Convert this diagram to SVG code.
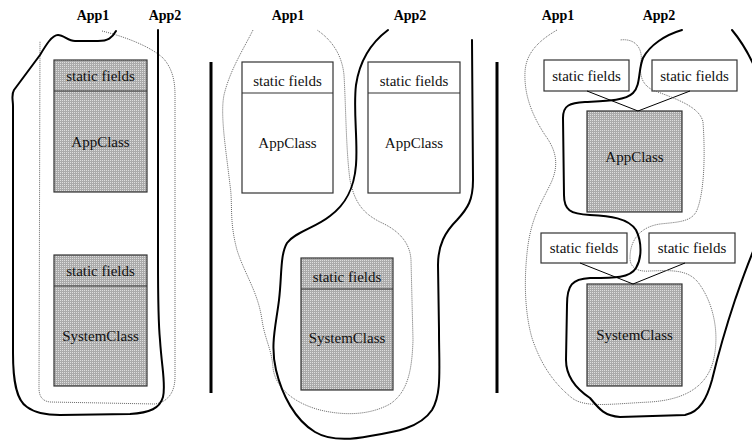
<svg xmlns="http://www.w3.org/2000/svg" width="752" height="441" viewBox="0 0 752 441">
  <defs>
    <!-- stippled grey fill used for shared classes -->
    <pattern id="stipple" width="2" height="2" patternUnits="userSpaceOnUse">
      <rect width="2" height="2" fill="#aaaaaa"/>
      <rect width="1" height="1" fill="#dedede"/>
    </pattern>
  </defs>
  <style>
    text { font-family: 'Liberation Serif', 'DejaVu Serif', serif; text-anchor: middle; }
    .lbl { font-weight: bold; font-size: 14px; fill: #000; }
    .txt { font-size: 15px; fill: #111; }
    .box { stroke: #333; stroke-width: 1.2; }
    .shared { fill: url(#stipple); }
    .plain { fill: #fff; }
    .sep { stroke: #000; stroke-width: 3; fill: none; }
    .app-solid { fill: none; stroke: #000; stroke-width: 2; stroke-linejoin: round; stroke-linecap: round; }
    .app-dot { fill: none; stroke: #666; stroke-width: 1; stroke-dasharray: 1 1; stroke-linejoin: round; }
    .link { stroke: #000; stroke-width: 1; fill: none; }
  </style>

  <rect width="752" height="441" fill="#fff"/>

  <!-- panel separators -->
  <g id="separators">
    <line class="sep" x1="211" y1="62" x2="211" y2="393"/>
    <line class="sep" x1="497" y1="62" x2="497" y2="393"/>
  </g>

  <!-- application labels -->
  <g id="labels" font-family="Liberation Serif, serif">
    <text class="lbl" x="93" y="20">App1</text>
    <text class="lbl" x="165" y="20">App2</text>
    <text class="lbl" x="288" y="20">App1</text>
    <text class="lbl" x="410" y="20">App2</text>
    <text class="lbl" x="558" y="20">App1</text>
    <text class="lbl" x="659" y="20">App2</text>
  </g>

  <!-- panel 1: both applications share every class -->
  <g id="p1-appclass">
    <rect class="box shared" x="54" y="60" width="93" height="132"/>
    <line class="box" x1="54" y1="91" x2="147" y2="91"/>
    <text class="txt" x="100.5" y="81">static fields</text>
    <text class="txt" x="100.5" y="147">AppClass</text>
  </g>
  <g id="p1-systemclass">
    <rect class="box shared" x="54" y="255" width="93" height="131"/>
    <line class="box" x1="54" y1="286" x2="147" y2="286"/>
    <text class="txt" x="100.5" y="276">static fields</text>
    <text class="txt" x="100.5" y="341">SystemClass</text>
  </g>

  <!-- panel 2: separate application classes, shared system class -->
  <g id="p2-appclass-1">
    <rect class="box plain" x="242" y="62" width="91" height="131"/>
    <line class="box" x1="242" y1="93" x2="333" y2="93"/>
    <text class="txt" x="287.5" y="86">static fields</text>
    <text class="txt" x="287.5" y="148">AppClass</text>
  </g>
  <g id="p2-appclass-2">
    <rect class="box plain" x="368" y="62" width="92" height="131"/>
    <line class="box" x1="368" y1="93" x2="460" y2="93"/>
    <text class="txt" x="414" y="86">static fields</text>
    <text class="txt" x="414" y="148">AppClass</text>
  </g>
  <g id="p2-systemclass">
    <rect class="box shared" x="301" y="258" width="92" height="132"/>
    <line class="box" x1="301" y1="289" x2="393" y2="289"/>
    <text class="txt" x="347" y="282">static fields</text>
    <text class="txt" x="347" y="343">SystemClass</text>
  </g>

  <!-- panel 3: shared classes with per-application static fields -->
  <g id="p3-fields-top-1">
    <rect class="box plain" x="544" y="60" width="85" height="31"/>
    <text class="txt" x="586.5" y="81">static fields</text>
  </g>
  <g id="p3-fields-top-2">
    <rect class="box plain" x="652" y="60" width="85" height="31"/>
    <text class="txt" x="694.5" y="81">static fields</text>
  </g>
  <g id="p3-appclass">
    <rect class="box shared" x="587" y="111" width="95" height="101"/>
    <text class="txt" x="634.5" y="162">AppClass</text>
  </g>
  <g id="p3-fields-bottom-1">
    <rect class="box plain" x="541" y="233" width="86" height="30"/>
    <text class="txt" x="584" y="253">static fields</text>
  </g>
  <g id="p3-fields-bottom-2">
    <rect class="box plain" x="649" y="233" width="86" height="30"/>
    <text class="txt" x="692" y="253">static fields</text>
  </g>
  <g id="p3-systemclass">
    <rect class="box shared" x="587" y="284" width="95" height="102"/>
    <text class="txt" x="634.5" y="340">SystemClass</text>
  </g>

  <!-- connectors: application boundaries and field links -->
  <g id="connectors">
    <!-- panel 1 -->
    <path class="app-dot" d="M102,31 C130,38 152,48 163,58 C172,68 175,80 175,95 L175,377 C175,392 168,402 155,404 L50,402 C42,401 39,396 39,388 L40,41"/>
    <path class="app-solid" d="M116,31 C112,38 108,41 98,41 L75,41 C68,41 64,35 58,35 C52,35 46,45 40,55 L14,90 C11,95 13,100 13,106 L13,353 C13,380 16,400 27,407 C35,413 45,415 60,415 L130,414 C150,413 160,408 163,397 C166,385 162,370 160,340 C158,320 158,300 158,260 L158,30"/>

    <!-- panel 2 -->
    <path class="app-dot" d="M253,30 C243,50 230,70 224,95 C220,115 226,150 230,185 C233,205 229,220 237,250 C245,275 258,292 262,320 C265,340 272,350 273,368 C275,385 290,402 320,410 C345,416 370,415 390,404 C408,392 412,370 413,340 L411,260 C410,242 398,230 380,222 C365,214 355,205 350,180 C346,150 346,110 344,75 C342,55 332,40 317,30"/>
    <path class="app-solid" d="M388,30 C372,42 360,58 356,85 C353,110 358,140 356,165 C354,190 345,205 330,216 C315,228 295,232 287,243 C280,255 282,275 279,300 C276,325 270,345 276,370 C282,395 295,420 315,432 C330,441 350,440 370,436 C395,432 420,428 432,410 C442,393 439,370 439,330 L438,265 C438,245 445,232 457,220 C468,208 473,200 473,180 L472,40"/>

    <!-- panel 3 -->
    <line class="link" x1="587" y1="91" x2="638" y2="111"/>
    <line class="link" x1="690" y1="91" x2="638" y2="111"/>
    <line class="link" x1="580" y1="263" x2="633" y2="284"/>
    <line class="link" x1="685" y1="263" x2="633" y2="284"/>
    <path class="app-dot" d="M557,30 C540,40 526,52 525,72 C524,95 532,115 545,135 C556,150 560,165 550,185 C540,205 532,218 528,245 C524,275 524,310 532,338 C540,362 552,382 572,398 C585,408 610,404 650,402 C680,400 705,390 713,362 C720,335 714,305 700,285 C690,270 675,270 650,271 C638,272 630,268 630,258 C630,240 640,227 660,224 C678,222 692,222 697,210 C705,190 705,150 703,122 C700,108 680,100 655,91 C642,86 639,75 641,62 C643,48 635,38 620,40"/>
    <path class="app-solid" d="M682,30 C665,35 650,45 643,58 C638,70 641,85 633,93 C625,101 605,101 585,102 C570,103 563,105 563,118 L564,195 C564,210 570,214 590,215 C610,216 628,218 636,230 C642,242 642,258 636,268 C630,278 615,278 590,278 C572,279 567,285 567,305 L566,360 C566,378 578,390 590,398 C600,410 605,416 620,417 L685,415 C700,412 707,398 712,380 C718,355 725,330 735,300 C742,280 748,262 760,235 M732,30 C742,42 750,55 758,75"/>
  </g>
</svg>
